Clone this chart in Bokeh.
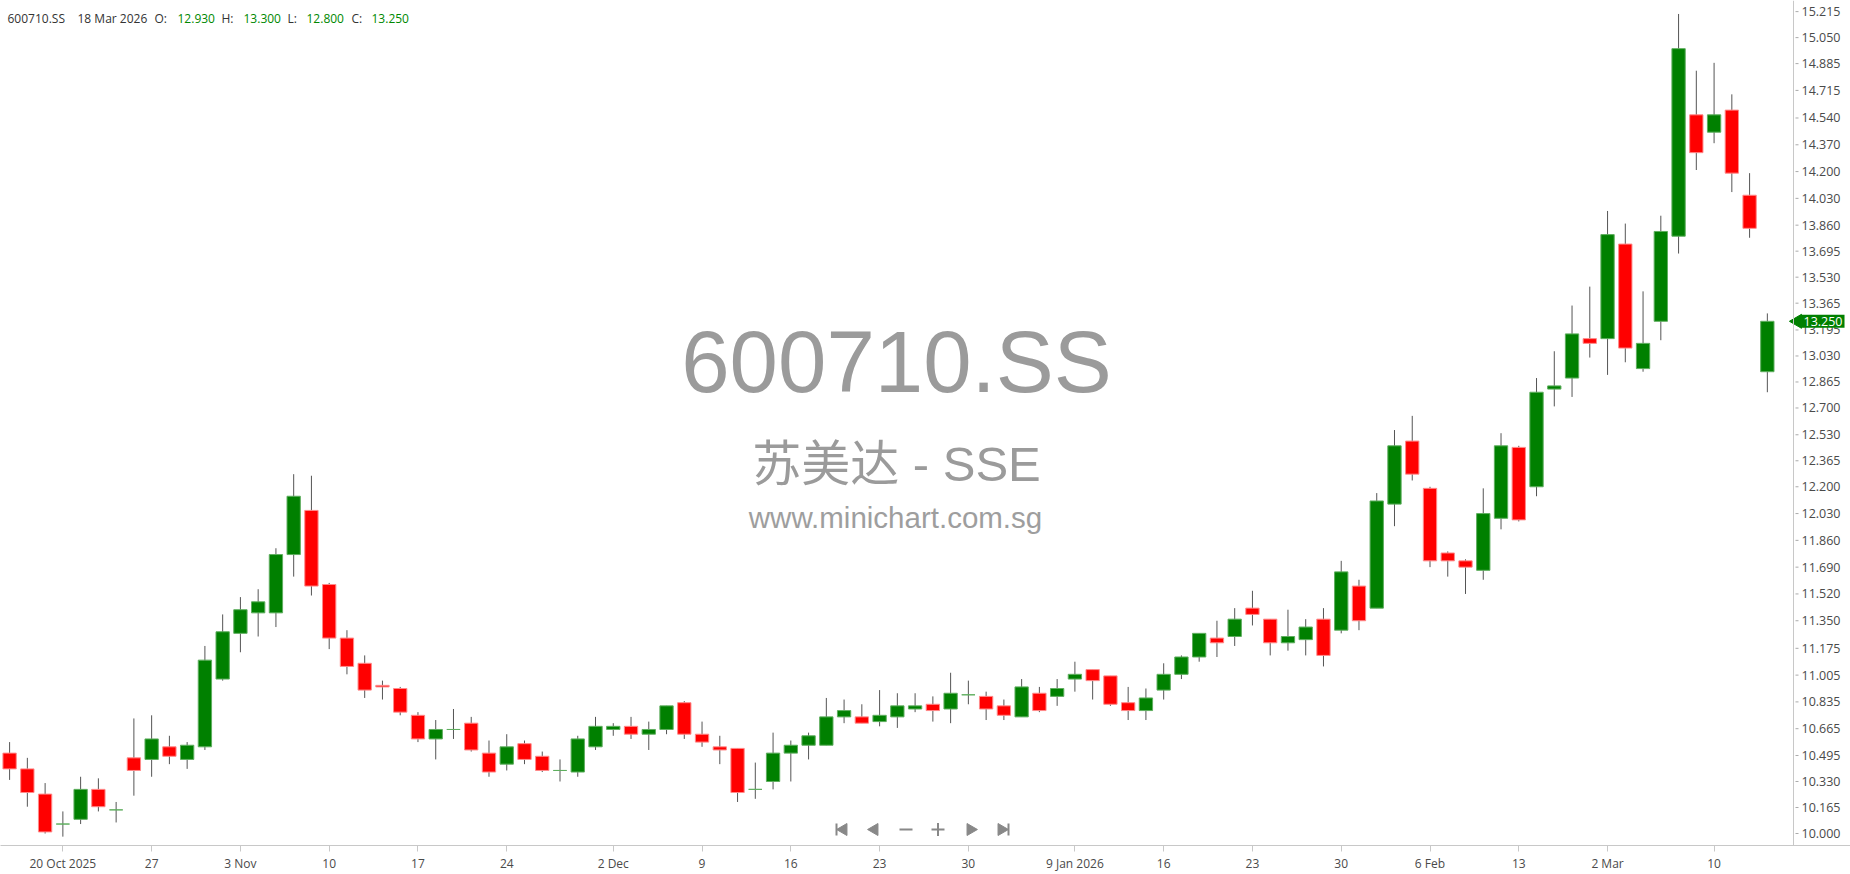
from bokeh.plotting import figure
from bokeh.models import Range1d, FixedTicker, Label, Span
from bokeh.core.properties import value
from bokeh.embed import file_html
from bokeh.resources import INLINE

symbol = "600710.SS"
name_line = "苏美达 - SSE"
site_line = "www.minichart.com.sg"
header_date = "18 Mar 2026"

dates = [
    "2025-10-15", "2025-10-16", "2025-10-17", "2025-10-20", "2025-10-21", "2025-10-22", "2025-10-23",
    "2025-10-24", "2025-10-27", "2025-10-28", "2025-10-29", "2025-10-30", "2025-10-31",
    "2025-11-03", "2025-11-04", "2025-11-05", "2025-11-06", "2025-11-07", "2025-11-10", "2025-11-11",
    "2025-11-12", "2025-11-13", "2025-11-14", "2025-11-17", "2025-11-18", "2025-11-19", "2025-11-20",
    "2025-11-21", "2025-11-24", "2025-11-25", "2025-11-26", "2025-11-27", "2025-11-28",
    "2025-12-01", "2025-12-02", "2025-12-03", "2025-12-04", "2025-12-05", "2025-12-08", "2025-12-09",
    "2025-12-10", "2025-12-11", "2025-12-12", "2025-12-15", "2025-12-16", "2025-12-17", "2025-12-18",
    "2025-12-19", "2025-12-22", "2025-12-23", "2025-12-24", "2025-12-25", "2025-12-26", "2025-12-29",
    "2025-12-30", "2025-12-31",
    "2026-01-05", "2026-01-06", "2026-01-07", "2026-01-08", "2026-01-09", "2026-01-12", "2026-01-13",
    "2026-01-14", "2026-01-15", "2026-01-16", "2026-01-19", "2026-01-20", "2026-01-21", "2026-01-22",
    "2026-01-23", "2026-01-26", "2026-01-27", "2026-01-28", "2026-01-29", "2026-01-30",
    "2026-02-02", "2026-02-03", "2026-02-04", "2026-02-05", "2026-02-06", "2026-02-09", "2026-02-10",
    "2026-02-11", "2026-02-12", "2026-02-13", "2026-02-24", "2026-02-25", "2026-02-26", "2026-02-27",
    "2026-03-02", "2026-03-03", "2026-03-04", "2026-03-05", "2026-03-06", "2026-03-09", "2026-03-10",
    "2026-03-11", "2026-03-12", "2026-03-18",
]

opens = [
    10.51, 10.41, 10.25, 10.06, 10.09, 10.28, 10.15, 10.48, 10.47, 10.55,
    10.47, 10.55, 10.98, 11.27, 11.40, 11.40, 11.77, 12.05, 11.58, 11.24,
    11.08, 10.94, 10.92, 10.75, 10.60, 10.66, 10.70, 10.51, 10.44, 10.57,
    10.49, 10.40, 10.39, 10.55, 10.66, 10.68, 10.63, 10.66, 10.83, 10.63,
    10.55, 10.54, 10.28, 10.33, 10.51, 10.56, 10.56, 10.74, 10.74, 10.71,
    10.74, 10.79, 10.82, 10.79, 10.88, 10.87, 10.81, 10.74, 10.89, 10.87,
    10.98, 11.04, 11.00, 10.83, 10.78, 10.91, 11.01, 11.12, 11.24, 11.25,
    11.43, 11.36, 11.21, 11.23, 11.36, 11.29, 11.57, 11.43, 12.09, 12.49,
    12.19, 11.78, 11.73, 11.67, 12.00, 12.45, 12.20, 12.82, 12.89, 13.14,
    13.14, 13.74, 12.95, 13.25, 13.79, 14.56, 14.45, 14.59, 14.05, 12.93,
]
highs = [
    10.58, 10.48, 10.32, 10.14, 10.36, 10.35, 10.20, 10.73, 10.75, 10.62,
    10.58, 11.19, 11.39, 11.50, 11.55, 11.81, 12.28, 12.27, 11.59, 11.29,
    11.13, 10.97, 10.93, 10.77, 10.72, 10.79, 10.74, 10.59, 10.63, 10.59,
    10.52, 10.47, 10.62, 10.74, 10.70, 10.74, 10.71, 10.81, 10.84, 10.71,
    10.62, 10.54, 10.45, 10.64, 10.59, 10.64, 10.86, 10.85, 10.82, 10.91,
    10.89, 10.89, 10.87, 11.02, 10.97, 10.90, 10.85, 10.98, 10.93, 10.98,
    11.09, 11.04, 11.00, 10.93, 10.92, 11.08, 11.13, 11.27, 11.35, 11.43,
    11.54, 11.36, 11.42, 11.36, 11.43, 11.73, 11.61, 12.16, 12.56, 12.65,
    12.20, 11.79, 11.74, 12.19, 12.54, 12.46, 12.89, 13.06, 13.35, 13.47,
    13.95, 13.87, 13.44, 13.92, 15.20, 14.84, 14.89, 14.69, 14.19, 13.30,
]
lows = [
    10.34, 10.17, 10.00, 9.98, 10.06, 10.14, 10.07, 10.24, 10.36, 10.44,
    10.41, 10.53, 10.97, 11.15, 11.25, 11.31, 11.63, 11.51, 11.17, 11.01,
    10.86, 10.85, 10.75, 10.58, 10.47, 10.60, 10.52, 10.36, 10.40, 10.44,
    10.39, 10.33, 10.36, 10.53, 10.62, 10.60, 10.53, 10.63, 10.60, 10.55,
    10.44, 10.20, 10.22, 10.28, 10.33, 10.47, 10.56, 10.70, 10.70, 10.68,
    10.67, 10.77, 10.71, 10.70, 10.82, 10.72, 10.72, 10.74, 10.77, 10.81,
    10.90, 10.85, 10.81, 10.72, 10.72, 10.85, 10.98, 11.09, 11.12, 11.19,
    11.32, 11.13, 11.16, 11.13, 11.06, 11.27, 11.29, 11.43, 11.95, 12.24,
    11.69, 11.63, 11.52, 11.61, 11.93, 11.98, 12.14, 12.71, 12.77, 13.02,
    12.91, 12.99, 12.93, 13.13, 13.68, 14.21, 14.38, 14.07, 13.78, 12.80,
]
closes = [
    10.41, 10.26, 10.01, 10.06, 10.28, 10.17, 10.15, 10.40, 10.60, 10.49,
    10.56, 11.10, 11.28, 11.42, 11.47, 11.77, 12.14, 11.57, 11.24, 11.06,
    10.91, 10.93, 10.77, 10.60, 10.66, 10.66, 10.53, 10.39, 10.55, 10.47,
    10.40, 10.40, 10.60, 10.68, 10.68, 10.63, 10.66, 10.81, 10.63, 10.58,
    10.53, 10.26, 10.28, 10.51, 10.56, 10.62, 10.74, 10.78, 10.70, 10.75,
    10.81, 10.81, 10.78, 10.89, 10.88, 10.79, 10.75, 10.93, 10.78, 10.92,
    11.01, 10.97, 10.82, 10.78, 10.86, 11.01, 11.12, 11.27, 11.21, 11.36,
    11.39, 11.21, 11.25, 11.31, 11.13, 11.66, 11.35, 12.11, 12.46, 12.28,
    11.73, 11.73, 11.69, 12.03, 12.46, 11.99, 12.80, 12.84, 13.17, 13.11,
    13.80, 13.08, 13.11, 13.82, 14.98, 14.32, 14.56, 14.19, 13.84, 13.25,
]

x_tick_dates = [
    "2025-10-20", "2025-10-27", "2025-11-03", "2025-11-10", "2025-11-17", "2025-11-24",
    "2025-12-02", "2025-12-09", "2025-12-16", "2025-12-23", "2025-12-30", "2026-01-09",
    "2026-01-16", "2026-01-23", "2026-01-30", "2026-02-06", "2026-02-13", "2026-03-02", "2026-03-10",
]
x_tick_labels = [
    "20 Oct 2025", "27", "3 Nov", "10", "17", "24", "2 Dec", "9", "16", "23", "30",
    "9 Jan 2026", "16", "23", "30", "6 Feb", "13", "2 Mar", "10",
]
y_tick_labels = [
    "10.000", "10.165", "10.330", "10.495", "10.665", "10.835", "11.005", "11.175",
    "11.350", "11.520", "11.690", "11.860", "12.030", "12.200", "12.365", "12.530",
    "12.700", "12.865", "13.030", "13.195", "13.365", "13.530", "13.695", "13.860",
    "14.030", "14.200", "14.370", "14.540", "14.715", "14.885", "15.050", "15.215",
]

# ---- layout helpers (page pixel -> data) ----
X0_PX, DX_PX = 9.1, 17.755      # centre of first candle, spacing
Y10_PX, DY_PX = 833.0, 157.6    # pixel row of price 10, pixels per unit
W, H = 1850, 874
FRAME_B = 845                   # bottom of the price pane
AXIS_X = 1793                   # price scale line


def px_x(px):
    return (px - X0_PX) / DX_PX


def px_y(py):
    return 10 + (Y10_PX - py) / DY_PX


GREEN = "#008000"
RED = "#ff0000"
AXIS_TXT = "#4a4a4a"

idx = list(range(len(dates)))
up = [c >= o for o, c in zip(opens, closes)]
body_top = [max(o, c) for o, c in zip(opens, closes)]
body_bot = [min(o, c) for o, c in zip(opens, closes)]
fills = [GREEN if u else RED for u in up]
edges = ["#5fae5f" if u else "#ff8a8a" for u in up]

p = figure(
    frame_width=W, frame_height=FRAME_B,
    x_range=Range1d(px_x(0), px_x(W)),
    y_range=Range1d(px_y(FRAME_B), px_y(0)),
    output_backend="svg", toolbar_location=None, title=None,
    y_axis_location=None,
    min_border_left=0, min_border_top=0, min_border_right=0,
    min_border_bottom=H - FRAME_B,
    background_fill_color="white", border_fill_color="white", outline_line_color=None,
)
p.xgrid.visible = False
p.ygrid.visible = False

# watermark
p.add_layout(Label(x=px_x(896), y=px_y(361), text=symbol, text_align="center",
                   text_baseline="middle", text_font="Liberation Sans", text_font_size="87px",
                   text_color="#9b9b9b", level="underlay"))
p.add_layout(Label(x=px_x(896), y=px_y(463), text=name_line, text_align="center",
                   text_baseline="middle", text_font="Liberation Sans, Noto Sans CJK SC",
                   text_font_size="49px", text_color="#9b9b9b", level="underlay"))
p.add_layout(Label(x=px_x(895), y=px_y(517), text=site_line, text_align="center",
                   text_baseline="middle", text_font="Liberation Sans", text_font_size="29.5px",
                   text_color="#9e9e9e", level="underlay"))

# candles
p.segment(x0=idx, y0=lows, x1=idx, y1=highs, line_color="#555555", line_width=1)
p.vbar(x=idx, width=0.75, top=body_top, bottom=body_bot, fill_color=fills,
       line_color=edges, line_width=1)

# price scale on the right (line, ticks, labels)
y_ticks = [float(s) for s in y_tick_labels]
p.add_layout(Span(location=px_x(AXIS_X), dimension="height", line_color="#c8c8c8", line_width=1))
p.segment(x0=[px_x(AXIS_X + 2)] * len(y_ticks), x1=[px_x(AXIS_X + 5)] * len(y_ticks),
          y0=y_ticks, y1=y_ticks, line_color="#aaaaaa", line_width=1)
p.text(x=[px_x(AXIS_X + 8)] * len(y_ticks), y=y_ticks, text=y_tick_labels,
       text_align="left", text_baseline="middle", text_font=value("Open Sans"),
       text_font_size=value("12.5px"), text_color=AXIS_TXT)

# time axis
xa = p.xaxis[0]
x_ticks = [dates.index(d) for d in x_tick_dates]
xa.ticker = FixedTicker(ticks=x_ticks)
xa.major_label_overrides = {t: lab for t, lab in zip(x_ticks, x_tick_labels)}
xa.axis_line_color = "#c8c8c8"
xa.major_tick_line_color = "#c8c8c8"
xa.major_tick_out = 6
xa.major_tick_in = 0
xa.minor_tick_line_color = None
xa.major_label_standoff = 3
xa.major_label_text_font = "Open Sans"
xa.major_label_text_font_size = "12px"
xa.major_label_text_color = AXIS_TXT

# header
hy = px_y(18)
last = len(dates) - 1
header = [
    (7, symbol, "#333333"), (77, header_date, "#333333"),
    (154, "O:", "#333333"), (177, "%.3f" % opens[last], "#008800"),
    (221, "H:", "#333333"), (243, "%.3f" % highs[last], "#008800"),
    (287, "L:", "#333333"), (306, "%.3f" % lows[last], "#008800"),
    (351, "C:", "#333333"), (371, "%.3f" % closes[last], "#008800"),
]
for hx, txt, col in header:
    p.add_layout(Label(x=px_x(hx), y=hy, text=txt, text_align="left", text_baseline="middle",
                       text_font="Open Sans", text_font_size="12px", text_color=col))

# last price tag
tag_y = closes[last]
p.scatter(x=[px_x(AXIS_X + 4)], y=[tag_y], marker="triangle", angle=1.5708, size=14,
          fill_color=GREEN, line_color=GREEN)
p.add_layout(Label(x=px_x(AXIS_X + 8), y=tag_y, text="%.3f" % tag_y, text_align="left",
                   text_baseline="middle", text_font="Open Sans", text_font_size="12.5px",
                   text_color="white", background_fill_color=GREEN, padding=2))

# navigation buttons
ny = px_y(829)
nav_col = "#888888"
p.scatter(x=[px_x(836), px_x(1008)], y=[ny, ny], marker="dash", angle=1.5708, size=12,
          line_color=nav_col, line_width=2)
p.scatter(x=[px_x(843), px_x(874)], y=[ny, ny], marker="triangle", angle=1.5708, size=12,
          fill_color=nav_col, line_color=nav_col)
p.scatter(x=[px_x(970), px_x(1001)], y=[ny, ny], marker="triangle", angle=-1.5708, size=12,
          fill_color=nav_col, line_color=nav_col)
p.scatter(x=[px_x(905.5)], y=[ny], marker="dash", size=13, line_color=nav_col, line_width=2)
p.scatter(x=[px_x(937.5)], y=[ny], marker="cross", size=13, line_color=nav_col, line_width=2)

open("out.html", "w").write(file_html(p, INLINE))
